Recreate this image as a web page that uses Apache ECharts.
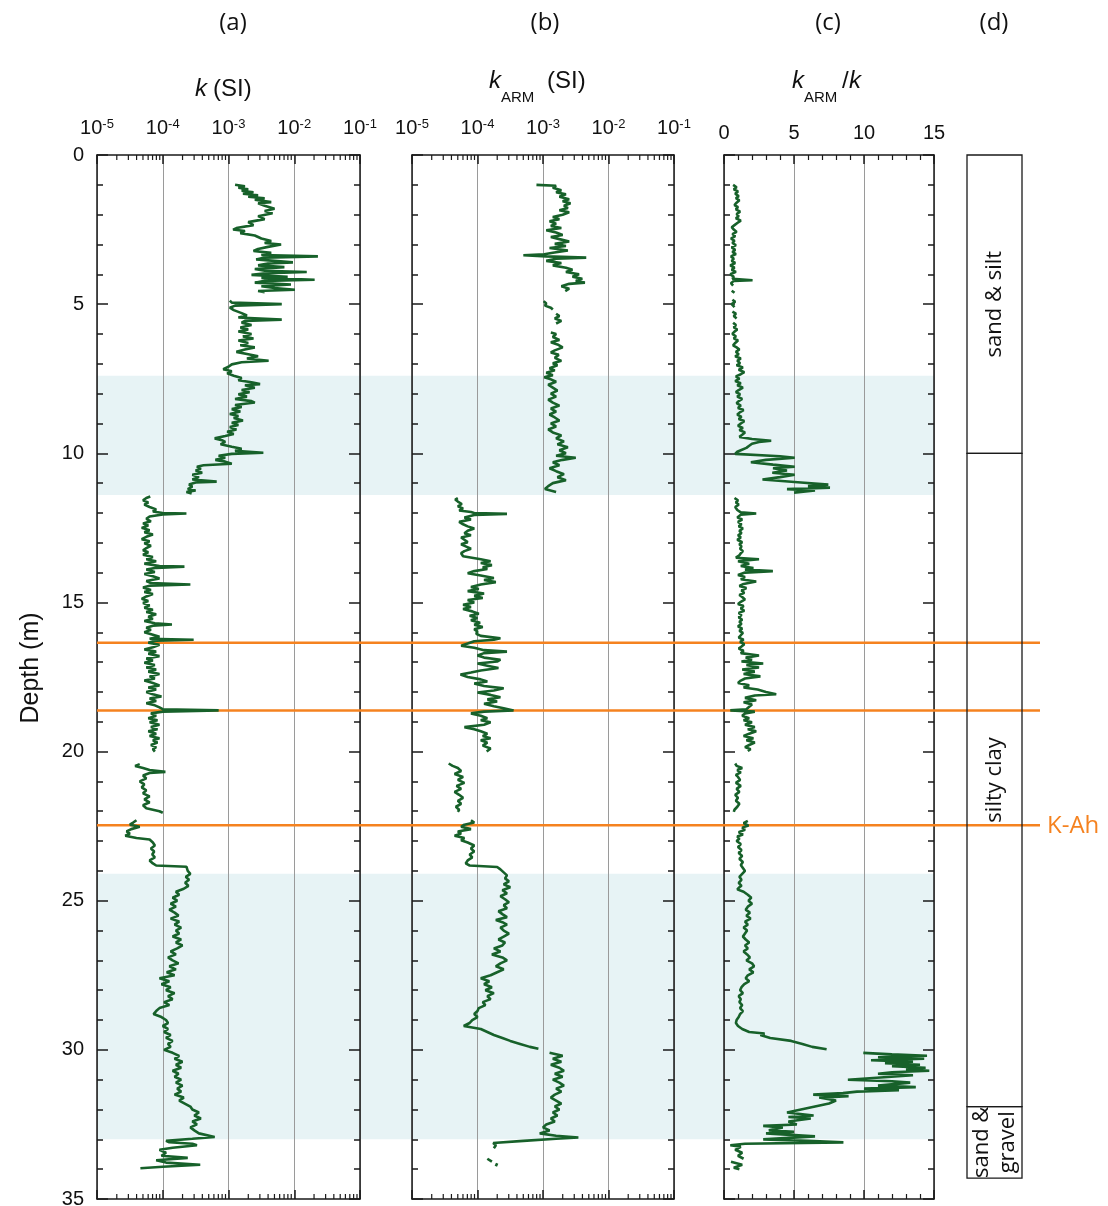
<!DOCTYPE html>
<html><head><meta charset="utf-8">
<script src="https://cdn.jsdelivr.net/npm/echarts@6/dist/echarts.min.js"></script>
<style>html,body{margin:0;padding:0;background:#fff}#c{width:1108px;height:1206px}</style>
</head><body><div id="c"></div>
<script>
// ---------------- DATA ----------------
const panelTitles = ['(a)', '(b)', '(c)', '(d)'];
const logTickExponents = [-5, -4, -3, -2, -1];
const ratioTicks = [0, 5, 10, 15];
const depthTicks = [0, 5, 10, 15, 20, 25, 30, 35];

// panel (a): [depth (m), log10 k (SI)]; null = gap
const kSeries = [
[1.00,-2.90],[1.05,-2.75],[1.10,-2.85],[1.15,-2.70],[1.20,-2.80],[1.25,-2.62],[1.30,-2.78],[1.35,-2.55],[1.40,-2.70],[1.45,-2.45],[1.50,-2.60],[1.58,-2.35],[1.62,-2.55],[1.70,-2.45],[1.80,-2.30],[1.88,-2.45],[1.95,-2.33],[2.05,-2.55],[2.15,-2.45],[2.25,-2.70],[2.35,-2.62],[2.45,-2.88],[2.50,-2.93],[2.55,-2.75],[2.62,-2.82],[2.70,-2.60],[2.80,-2.50],[2.88,-2.35],[2.95,-2.45],[3.00,-2.20],[3.08,-2.40],[3.15,-2.55],[3.22,-2.62],[3.28,-2.35],[3.35,-2.50],[3.40,-1.64],[3.44,-2.45],[3.50,-2.58],[3.55,-2.30],[3.60,-2.02],[3.64,-2.40],[3.70,-2.55],[3.76,-2.15],[3.82,-2.60],[3.88,-2.45],[3.92,-1.81],[3.96,-2.40],[4.02,-2.65],[4.08,-2.10],[4.12,-2.50],[4.18,-1.69],[4.22,-2.45],[4.28,-2.60],[4.34,-2.05],[4.40,-2.50],[4.46,-2.30],[4.52,-1.99],[4.56,-2.55],[4.60,-2.45],[4.70,null],
[4.88,-2.98],[4.95,-2.95],[5.00,-2.19],[5.05,-2.90],[5.12,-2.98],[5.20,-2.92],[5.30,-2.80],[5.38,-2.72],[5.45,-2.85],[5.52,-2.19],[5.56,-2.75],[5.62,-2.80],[5.70,-2.65],[5.78,-2.82],[5.85,-2.70],[5.92,-2.85],[6.00,-2.65],[6.08,-2.78],[6.15,-2.62],[6.22,-2.85],[6.30,-2.70],[6.38,-2.82],[6.45,-2.60],[6.52,-2.75],[6.60,-2.88],[6.68,-2.70],[6.75,-2.55],[6.82,-2.72],[6.90,-2.39],[6.95,-2.80],[7.02,-2.95],[7.10,-3.00],[7.18,-3.08],[7.25,-2.95],[7.32,-3.02],[7.40,-2.92],[7.48,-2.80],[7.55,-2.85],[7.62,-2.65],[7.68,-2.52],[7.72,-2.75],[7.80,-2.60],[7.88,-2.80],[7.95,-2.68],[8.02,-2.85],[8.10,-2.72],[8.18,-2.90],[8.25,-2.65],[8.30,-2.60],[8.38,-2.90],[8.45,-2.80],[8.52,-2.95],[8.60,-2.82],[8.68,-2.98],[8.75,-2.85],[8.82,-2.92],[8.90,-2.78],[8.98,-2.95],[9.05,-2.85],[9.12,-2.98],[9.20,-2.88],[9.28,-3.02],[9.35,-2.92],[9.42,-3.05],[9.50,-3.21],[9.56,-3.10],[9.62,-3.05],[9.70,-3.12],[9.78,-2.95],[9.85,-2.80],[9.92,-2.90],[9.98,-2.47],[10.02,-2.95],[10.08,-3.15],[10.15,-3.05],[10.22,-3.20],[10.28,-3.05],[10.35,-2.95],[10.40,-3.38],[10.45,-3.48],[10.52,-3.42],[10.58,-3.50],[10.65,-3.40],[10.72,-3.55],[10.80,-3.45],[10.88,-3.55],[10.95,-3.18],[10.98,-3.50],[11.05,-3.60],[11.12,-3.55],[11.20,-3.62],[11.25,-3.50],[11.30,-3.64],[11.35,-3.56],[11.40,null],
[11.45,-4.19],[11.50,-4.25],[11.58,-4.30],[11.65,-4.22],[11.72,-4.28],[11.80,-4.20],[11.88,-4.10],[11.95,-4.15],[12.00,-4.00],[12.02,-3.64],[12.05,-4.00],[12.12,-4.20],[12.20,-4.25],[12.28,-4.18],[12.35,-4.30],[12.42,-4.22],[12.50,-4.32],[12.58,-4.20],[12.65,-4.28],[12.72,-4.15],[12.80,-4.25],[12.88,-4.32],[12.95,-4.20],[13.02,-4.28],[13.10,-4.18],[13.18,-4.25],[13.25,-4.30],[13.32,-4.22],[13.40,-4.30],[13.48,-4.15],[13.55,-4.25],[13.62,-4.10],[13.70,-4.28],[13.78,-4.05],[13.80,-3.67],[13.84,-4.10],[13.90,-4.25],[13.98,-4.12],[14.05,-4.28],[14.12,-4.15],[14.20,-4.05],[14.28,-4.25],[14.35,-4.18],[14.40,-3.58],[14.44,-4.20],[14.50,-4.30],[14.58,-4.18],[14.65,-4.28],[14.72,-4.15],[14.80,-4.25],[14.88,-4.32],[14.95,-4.22],[15.02,-4.30],[15.10,-4.20],[15.18,-4.28],[15.25,-4.15],[15.32,-4.25],[15.40,-4.10],[15.48,-4.22],[15.55,-4.15],[15.62,-4.28],[15.70,-4.12],[15.74,-3.86],[15.78,-4.15],[15.85,-4.25],[15.92,-4.18],[16.00,-4.28],[16.08,-4.15],[16.15,-4.05],[16.22,-4.20],[16.25,-3.53],[16.28,-4.10],[16.35,-4.22],[16.42,-4.05],[16.50,-4.15],[16.58,-4.28],[16.65,-4.10],[16.72,-4.22],[16.80,-4.05],[16.88,-4.25],[16.95,-4.15],[17.02,-4.28],[17.10,-4.12],[17.18,-4.25],[17.25,-4.10],[17.32,-4.22],[17.40,-4.05],[17.48,-4.20],[17.55,-4.12],[17.62,-4.28],[17.70,-4.15],[17.78,-4.05],[17.85,-4.22],[17.92,-4.10],[18.00,-4.25],[18.08,-4.15],[18.15,-4.02],[18.22,-4.20],[18.30,-4.10],[18.38,-4.25],[18.45,-4.12],[18.52,-4.05],[18.58,-4.00],[18.62,-3.15],[18.66,-4.00],[18.72,-4.18],[18.80,-4.10],[18.88,-4.22],[18.95,-4.08],[19.02,-4.20],[19.10,-4.05],[19.18,-4.18],[19.25,-4.08],[19.32,-4.22],[19.40,-4.10],[19.48,-4.20],[19.55,-4.05],[19.62,-4.15],[19.70,-4.08],[19.78,-4.18],[19.85,-4.10],[19.92,-4.15],[20.00,-4.12],[20.20,null],
[20.42,-4.35],[20.48,-4.42],[20.55,-4.30],[20.62,-4.20],[20.68,-3.96],[20.72,-4.20],[20.80,-4.30],[20.90,-4.25],[21.00,-4.35],[21.10,-4.28],[21.20,-4.32],[21.30,-4.25],[21.40,-4.30],[21.50,-4.20],[21.60,-4.28],[21.70,-4.20],[21.80,-4.30],[21.90,-4.25],[22.00,-4.05],[22.05,-4.00],[22.15,null],
[22.30,-4.40],[22.38,-4.45],[22.45,-4.50],[22.52,-4.35],[22.60,-4.48],[22.68,-4.55],[22.75,-4.50],[22.82,-4.57],[22.90,-4.40],[22.95,-4.20],[23.05,-4.15],[23.15,-4.12],[23.25,-4.18],[23.35,-4.13],[23.45,-4.16],[23.55,-4.12],[23.65,-4.20],[23.75,-4.15],[23.82,-4.10],[23.86,-3.64],[23.92,-3.62],[24.00,-3.62],[24.10,-3.58],[24.20,-3.65],[24.30,-3.60],[24.40,-3.66],[24.50,-3.61],[24.60,-3.68],[24.70,-3.80],[24.80,-3.75],[24.90,-3.85],[25.00,-3.78],[25.10,-3.88],[25.20,-3.80],[25.30,-3.90],[25.40,-3.82],[25.50,-3.76],[25.60,-3.88],[25.70,-3.75],[25.80,-3.82],[25.90,-3.72],[26.00,-3.80],[26.10,-3.75],[26.20,-3.85],[26.30,-3.72],[26.40,-3.80],[26.50,-3.70],[26.60,-3.78],[26.70,-3.88],[26.80,-3.80],[26.90,-3.92],[27.00,-3.85],[27.10,-3.76],[27.20,-3.90],[27.30,-3.80],[27.40,-3.94],[27.50,-3.82],[27.60,-4.05],[27.70,-3.90],[27.80,-4.02],[27.90,-3.88],[28.00,-3.95],[28.10,-3.82],[28.20,-3.92],[28.30,-3.85],[28.40,-3.98],[28.50,-3.90],[28.60,-4.05],[28.70,-4.10],[28.80,-4.14],[28.90,-4.02],[29.00,-3.95],[29.10,-3.92],[29.20,-4.00],[29.30,-3.92],[29.40,-3.98],[29.50,-3.88],[29.60,-3.95],[29.70,-3.85],[29.80,-3.92],[29.90,-3.88],[30.00,-3.98],[30.10,-3.85],[30.20,-3.75],[30.30,-3.82],[30.40,-3.70],[30.50,-3.80],[30.60,-3.72],[30.70,-3.85],[30.80,-3.76],[30.90,-3.82],[31.00,-3.72],[31.10,-3.80],[31.20,-3.70],[31.30,-3.78],[31.40,-3.72],[31.50,-3.82],[31.60,-3.68],[31.70,-3.75],[31.90,-3.58],[32.00,-3.55],[32.10,-3.45],[32.20,-3.52],[32.30,-3.42],[32.40,-3.55],[32.50,-3.48],[32.60,-3.58],[32.70,-3.52],[32.80,-3.45],[32.92,-3.21],[32.98,-3.55],[33.05,-3.95],[33.10,-3.90],[33.15,-3.55],[33.20,-3.48],[33.28,-3.85],[33.35,-4.05],[33.45,-3.95],[33.55,-4.02],[33.62,-3.62],[33.70,-4.10],[33.78,-3.95],[33.85,-3.43],[33.92,-4.00],[33.97,-4.34]
];

// panel (b): [depth (m), log10 kARM (SI)]
const kArmSeries = [
[1.00,-3.10],[1.03,-2.80],[1.10,-2.85],[1.18,-2.72],[1.25,-2.80],[1.32,-2.65],[1.40,-2.75],[1.48,-2.60],[1.55,-2.70],[1.62,-2.58],[1.70,-2.68],[1.78,-2.62],[1.85,-2.75],[1.92,-2.60],[2.00,-2.70],[2.08,-2.85],[2.15,-2.75],[2.22,-2.90],[2.30,-2.80],[2.38,-2.88],[2.45,-2.72],[2.52,-2.95],[2.60,-2.80],[2.68,-2.70],[2.75,-2.88],[2.82,-2.75],[2.90,-2.60],[2.98,-2.82],[3.05,-2.65],[3.12,-2.90],[3.20,-2.62],[3.28,-2.85],[3.33,-2.98],[3.36,-3.30],[3.40,-2.95],[3.44,-2.34],[3.48,-2.80],[3.55,-2.95],[3.62,-2.72],[3.70,-2.85],[3.78,-2.65],[3.85,-2.55],[3.92,-2.65],[4.00,-2.45],[4.08,-2.55],[4.15,-2.40],[4.22,-2.50],[4.28,-2.36],[4.32,-2.60],[4.40,-2.72],[4.48,-2.60],[4.56,-2.66],[4.70,null],
[4.90,-2.99],[4.98,-2.95],[5.05,-2.97],[5.12,-2.88],[5.18,-2.85],[5.25,null],[5.32,-2.80],[5.40,-2.75],[5.48,-2.82],[5.56,-2.72],[5.65,-2.80],[5.80,null],
[5.95,-2.88],[6.00,-2.80],[6.10,-2.85],[6.20,-2.75],[6.28,-2.88],[6.35,-2.78],[6.45,-2.70],[6.55,-2.82],[6.62,-2.88],[6.70,-2.76],[6.80,-2.82],[6.90,-2.72],[6.98,-2.85],[7.05,-2.78],[7.15,-2.90],[7.22,-2.82],[7.30,-2.95],[7.38,-2.85],[7.45,-2.98],[7.52,-2.88],[7.60,-2.80],[7.70,-2.92],[7.80,-2.85],[7.90,-2.78],[8.00,-2.88],[8.10,-2.80],[8.20,-2.92],[8.30,-2.85],[8.40,-2.75],[8.50,-2.88],[8.60,-2.80],[8.70,-2.90],[8.80,-2.82],[8.90,-2.75],[9.00,-2.88],[9.10,-2.80],[9.20,-2.92],[9.30,-2.85],[9.40,-2.72],[9.50,-2.80],[9.60,-2.68],[9.70,-2.78],[9.80,-2.62],[9.90,-2.75],[10.00,-2.65],[10.08,-2.80],[10.15,-2.50],[10.22,-2.70],[10.30,-2.85],[10.40,-2.75],[10.50,-2.90],[10.60,-2.80],[10.70,-2.68],[10.80,-2.78],[10.90,-2.65],[11.00,-2.85],[11.10,-2.92],[11.20,-2.97],[11.30,-2.80],[11.40,null],
[11.50,-4.30],[11.55,-4.34],[11.62,-4.30],[11.70,-4.24],[11.78,-4.30],[11.85,-4.22],[11.92,-4.28],[11.97,-4.10],[12.00,-4.05],[12.03,-3.55],[12.07,-4.05],[12.15,-4.20],[12.22,-4.10],[12.30,-4.28],[12.38,-4.22],[12.45,-4.15],[12.52,-4.05],[12.60,-4.15],[12.68,-4.20],[12.75,-4.10],[12.82,-4.25],[12.90,-4.20],[12.98,-4.15],[13.05,-4.25],[13.12,-4.18],[13.20,-4.10],[13.28,-4.20],[13.35,-4.25],[13.45,-4.22],[13.55,-3.95],[13.62,-3.80],[13.68,-3.95],[13.75,-3.78],[13.82,-3.92],[13.88,-3.85],[13.95,-4.05],[14.02,-4.15],[14.10,-3.95],[14.18,-3.75],[14.25,-3.90],[14.32,-3.72],[14.40,-3.95],[14.48,-4.10],[14.55,-3.98],[14.62,-4.15],[14.70,-3.90],[14.78,-4.05],[14.85,-3.92],[14.92,-4.15],[15.00,-4.05],[15.08,-4.22],[15.15,-4.10],[15.22,-4.22],[15.30,-4.08],[15.38,-3.98],[15.45,-4.12],[15.52,-4.00],[15.60,-4.10],[15.68,-3.96],[15.75,-4.05],[15.82,-3.92],[15.90,-4.05],[15.98,-4.00],[16.05,-4.02],[16.12,-3.95],[16.20,-3.65],[16.25,-3.75],[16.30,-4.05],[16.38,-4.15],[16.45,-4.25],[16.52,-4.05],[16.60,-3.90],[16.65,-3.55],[16.70,-3.90],[16.78,-4.00],[16.85,-3.90],[16.92,-3.65],[16.98,-3.70],[17.05,-4.00],[17.12,-3.85],[17.20,-3.68],[17.28,-3.95],[17.35,-4.10],[17.42,-4.26],[17.50,-4.15],[17.58,-3.95],[17.65,-3.85],[17.72,-4.05],[17.80,-3.90],[17.88,-3.60],[17.95,-3.75],[18.02,-4.00],[18.10,-3.80],[18.18,-3.65],[18.25,-3.85],[18.32,-3.70],[18.40,-3.90],[18.48,-3.75],[18.55,-3.60],[18.62,-3.45],[18.66,-3.90],[18.72,-4.10],[18.80,-3.95],[18.88,-3.85],[18.95,-3.95],[19.02,-3.80],[19.10,-3.90],[19.18,-4.20],[19.25,-4.05],[19.32,-3.95],[19.40,-3.85],[19.48,-3.92],[19.55,-3.80],[19.62,-3.95],[19.70,-3.85],[19.80,-3.92],[19.90,-3.80],[20.00,-3.86],[20.20,null],
[20.40,-4.44],[20.48,-4.38],[20.55,-4.30],[20.65,-4.25],[20.75,-4.35],[20.85,-4.22],[20.95,-4.30],[21.05,-4.20],[21.15,-4.32],[21.25,-4.25],[21.35,-4.35],[21.45,-4.28],[21.55,-4.22],[21.65,-4.30],[21.75,-4.25],[21.85,-4.33],[21.95,-4.28],[22.02,-4.30],[22.15,null],
[22.30,-4.10],[22.38,-4.05],[22.45,-4.20],[22.52,-4.25],[22.60,-4.10],[22.68,-4.30],[22.75,-4.25],[22.82,-4.35],[22.90,-4.20],[22.97,-4.25],[23.05,-4.15],[23.15,-4.05],[23.25,-4.10],[23.35,-4.05],[23.45,-4.12],[23.55,-4.08],[23.65,-4.15],[23.75,-4.18],[23.82,-4.12],[23.87,-3.70],[23.95,-3.65],[24.05,-3.60],[24.15,-3.55],[24.25,-3.58],[24.35,-3.52],[24.45,-3.60],[24.55,-3.50],[24.65,-3.62],[24.75,-3.55],[24.85,-3.65],[24.95,-3.58],[25.05,-3.52],[25.15,-3.60],[25.25,-3.55],[25.35,-3.68],[25.45,-3.62],[25.55,-3.55],[25.65,-3.72],[25.72,-3.62],[25.80,-3.55],[25.90,-3.65],[26.00,-3.60],[26.10,-3.52],[26.20,-3.60],[26.30,-3.68],[26.40,-3.58],[26.50,-3.62],[26.60,-3.75],[26.70,-3.65],[26.80,-3.78],[26.90,-3.62],[27.00,-3.55],[27.10,-3.65],[27.20,-3.72],[27.30,-3.60],[27.40,-3.70],[27.50,-3.80],[27.60,-3.95],[27.70,-3.82],[27.80,-3.90],[27.90,-3.78],[28.00,-3.88],[28.10,-3.75],[28.20,-3.85],[28.30,-3.80],[28.40,-3.92],[28.50,-3.88],[28.60,-3.98],[28.70,-4.00],[28.80,-4.05],[28.90,-4.00],[29.00,-4.08],[29.10,-4.12],[29.20,-4.21],[29.30,-3.95],[29.40,-3.85],[29.50,-3.75],[29.60,-3.62],[29.70,-3.50],[29.80,-3.35],[29.90,-3.20],[29.96,-3.07],[30.03,null],
[30.10,-2.90],[30.20,-2.70],[30.30,-2.85],[30.40,-2.72],[30.50,-2.88],[30.60,-2.75],[30.70,-2.68],[30.80,-2.82],[30.90,-2.70],[31.00,-2.85],[31.10,-2.75],[31.20,-2.68],[31.30,-2.80],[31.40,-2.72],[31.50,-2.82],[31.60,-2.88],[31.70,-2.80],[31.80,-2.72],[31.90,-2.82],[32.00,-2.75],[32.10,-2.85],[32.20,-2.78],[32.30,-2.88],[32.40,-2.82],[32.50,-2.95],[32.60,-3.00],[32.70,-2.90],[32.80,-3.05],[32.88,-2.80],[32.94,-2.46],[32.98,-2.80],[33.05,-3.30],[33.12,-3.76],[33.20,-3.72],[33.30,-3.75],[33.45,null],
[33.65,-3.85],[33.75,-3.78],[33.77,null],[33.80,-3.70],[33.90,-3.72]
];

// panel (c): [depth (m), kARM/k]
const ratioSeries = [
[1.00,0.65],[1.08,0.90],[1.15,0.70],[1.22,1.00],[1.30,0.80],[1.38,1.05],[1.45,0.85],[1.52,1.10],[1.60,0.90],[1.68,0.75],[1.75,1.00],[1.82,0.85],[1.90,1.15],[1.98,0.90],[2.05,1.05],[2.12,0.85],[2.20,1.20],[2.28,0.95],[2.35,0.75],[2.42,0.55],[2.50,0.70],[2.58,0.90],[2.65,0.60],[2.72,0.80],[2.80,0.50],[2.88,0.75],[2.95,0.60],[3.02,0.85],[3.10,0.55],[3.18,0.80],[3.25,0.60],[3.32,0.85],[3.40,0.50],[3.48,0.70],[3.55,0.55],[3.62,0.80],[3.70,0.45],[3.78,0.75],[3.85,0.55],[3.92,0.85],[4.00,0.45],[4.08,0.70],[4.15,0.60],[4.20,2.04],[4.22,0.70],[4.30,0.50],[4.38,0.65],[4.46,null],
[4.55,0.55],[4.62,0.75],[4.72,null],[4.85,0.60],[4.92,0.80],[5.00,0.55],[5.10,0.75],[5.17,null],[5.25,0.60],[5.32,0.85],[5.40,0.70],[5.48,0.90],[5.55,null],
[5.62,0.65],[5.70,0.85],[5.78,0.70],[5.85,0.95],[5.92,0.75],[6.00,0.60],[6.08,0.85],[6.15,0.70],[6.22,1.00],[6.30,0.80],[6.38,0.65],[6.45,0.90],[6.52,1.10],[6.60,0.85],[6.68,1.05],[6.75,0.80],[6.82,1.20],[6.90,0.95],[6.98,1.15],[7.05,0.90],[7.12,1.35],[7.20,1.05],[7.28,1.45],[7.35,1.20],[7.42,0.85],[7.50,1.10],[7.58,0.80],[7.65,1.20],[7.72,0.95],[7.80,1.35],[7.88,1.05],[7.95,0.85],[8.02,1.15],[8.10,0.95],[8.18,1.30],[8.25,1.05],[8.32,0.90],[8.40,1.20],[8.48,1.00],[8.55,1.40],[8.62,1.15],[8.70,0.95],[8.78,1.25],[8.85,1.05],[8.92,1.45],[9.00,1.20],[9.08,1.00],[9.15,1.35],[9.22,1.10],[9.30,1.50],[9.38,1.30],[9.45,1.10],[9.52,2.00],[9.58,3.37],[9.62,2.50],[9.68,2.00],[9.75,1.80],[9.82,1.60],[9.90,1.20],[9.95,0.95],[10.02,0.80],[10.10,4.00],[10.15,5.05],[10.22,3.00],[10.30,1.92],[10.38,3.50],[10.45,5.05],[10.50,3.50],[10.58,4.50],[10.65,3.45],[10.72,5.05],[10.80,4.00],[10.88,2.75],[10.93,2.70],[10.98,5.50],[11.05,7.45],[11.10,6.00],[11.15,7.57],[11.20,4.50],[11.25,6.50],[11.32,5.00],[11.40,null],
[11.50,0.75],[11.58,1.00],[11.65,0.85],[11.72,1.05],[11.80,0.80],[11.90,0.95],[11.98,1.20],[12.02,2.30],[12.06,1.20],[12.15,0.95],[12.22,1.30],[12.30,1.00],[12.38,1.25],[12.45,1.05],[12.52,1.35],[12.60,1.10],[12.68,1.25],[12.75,1.00],[12.82,1.20],[12.90,0.95],[12.98,1.30],[13.05,1.10],[13.12,1.25],[13.20,1.15],[13.28,1.35],[13.35,1.20],[13.42,1.10],[13.50,0.85],[13.55,2.50],[13.62,1.00],[13.70,1.80],[13.78,1.20],[13.85,2.10],[13.90,1.50],[13.95,3.49],[14.00,1.50],[14.08,1.00],[14.15,1.50],[14.22,1.20],[14.30,2.30],[14.38,1.40],[14.45,1.10],[14.52,1.60],[14.60,1.25],[14.68,1.45],[14.75,1.10],[14.82,1.30],[14.90,1.50],[14.98,1.20],[15.05,1.00],[15.12,1.40],[15.20,1.20],[15.28,1.45],[15.35,1.05],[15.42,1.25],[15.50,1.05],[15.58,1.30],[15.65,1.10],[15.72,1.25],[15.80,1.00],[15.88,1.30],[15.95,1.10],[16.02,1.35],[16.10,1.20],[16.18,1.05],[16.25,1.40],[16.32,1.15],[16.40,1.45],[16.48,1.25],[16.55,1.05],[16.62,1.40],[16.70,1.20],[16.78,2.50],[16.85,1.55],[16.92,2.00],[16.98,1.25],[17.05,2.80],[17.10,1.60],[17.18,2.50],[17.25,1.30],[17.32,2.20],[17.40,1.40],[17.48,2.60],[17.55,1.50],[17.62,1.20],[17.70,1.00],[17.78,1.80],[17.85,1.40],[17.92,2.40],[18.00,3.00],[18.08,3.73],[18.12,2.20],[18.20,1.50],[18.28,2.30],[18.35,1.40],[18.42,2.00],[18.50,1.80],[18.58,1.60],[18.62,0.45],[18.66,2.20],[18.72,1.50],[18.80,1.30],[18.88,1.80],[18.95,1.40],[19.02,2.00],[19.10,1.50],[19.18,2.20],[19.25,1.70],[19.32,2.30],[19.40,1.80],[19.48,1.40],[19.55,2.10],[19.62,1.60],[19.70,2.20],[19.78,1.80],[19.85,1.50],[19.92,1.90],[19.98,1.70],[20.20,null],
[20.40,0.80],[20.48,0.90],[20.55,1.30],[20.62,0.95],[20.70,1.20],[20.78,0.85],[20.85,1.00],[20.95,1.15],[21.05,0.85],[21.15,1.20],[21.25,0.90],[21.35,1.10],[21.45,0.80],[21.55,1.00],[21.65,0.85],[21.75,1.10],[21.85,0.95],[21.95,0.75],[22.02,0.70],[22.15,null],
[22.32,1.70],[22.40,1.40],[22.48,1.75],[22.55,1.30],[22.62,1.50],[22.70,1.05],[22.78,1.35],[22.85,0.95],[22.92,1.10],[23.00,0.90],[23.10,1.20],[23.20,1.00],[23.30,1.25],[23.40,1.05],[23.50,1.30],[23.60,1.10],[23.70,1.35],[23.80,1.20],[23.90,1.35],[24.00,1.50],[24.10,1.30],[24.20,1.10],[24.30,1.25],[24.40,1.05],[24.50,1.25],[24.55,1.10],[24.62,0.95],[24.70,1.40],[24.80,1.70],[24.90,1.95],[25.00,1.75],[25.10,2.00],[25.20,1.70],[25.30,1.55],[25.40,1.85],[25.50,1.60],[25.60,1.90],[25.70,1.50],[25.80,1.70],[25.90,1.40],[26.00,1.65],[26.10,1.50],[26.20,1.35],[26.30,1.55],[26.40,1.80],[26.50,1.50],[26.60,1.70],[26.70,1.40],[26.80,1.65],[26.90,1.85],[27.00,1.60],[27.10,2.00],[27.20,2.15],[27.30,1.80],[27.40,2.10],[27.50,1.70],[27.60,1.55],[27.70,1.80],[27.80,1.45],[27.90,1.25],[28.00,1.15],[28.10,1.35],[28.20,1.05],[28.30,1.20],[28.40,1.10],[28.50,1.30],[28.60,1.15],[28.70,1.35],[28.80,1.15],[28.90,1.05],[29.00,0.90],[29.10,0.85],[29.20,1.00],[29.30,1.30],[29.40,1.80],[29.45,2.90],[29.50,2.60],[29.60,3.30],[29.70,4.80],[29.80,5.60],[29.90,6.30],[29.98,7.33],[30.04,null],
[30.10,9.95],[30.15,12.00],[30.20,14.50],[30.25,11.00],[30.30,14.30],[30.35,10.50],[30.40,13.50],[30.45,11.50],[30.50,14.00],[30.55,12.00],[30.60,14.40],[30.65,13.00],[30.70,14.66],[30.75,12.00],[30.80,11.00],[30.85,13.50],[31.00,8.85],[31.05,12.00],[31.10,13.30],[31.20,11.00],[31.25,13.70],[31.30,10.00],[31.35,12.50],[31.40,9.50],[31.45,8.50],[31.50,6.37],[31.55,8.90],[31.60,6.80],[31.70,8.00],[31.80,7.50],[31.90,6.50],[32.00,5.50],[32.10,4.50],[32.20,6.40],[32.25,4.60],[32.30,6.20],[32.40,4.60],[32.50,5.20],[32.55,2.80],[32.60,4.20],[32.70,3.20],[32.75,5.00],[32.80,3.00],[32.90,6.50],[33.00,2.80],[33.05,6.00],[33.10,8.53],[33.15,1.50],[33.20,0.45],[33.25,1.20],[33.35,0.80],[33.45,1.30],[33.55,1.00],[33.65,1.40],[33.70,null],[33.75,0.50],[33.85,1.30],[33.95,0.70],[34.00,1.10]
];

// shaded depth intervals (m)
const bandTop = [7.4, 24.1];
const bandBottom = [11.4, 33.0];
// tephra marker depths (m) and labels
const tephraDepth = [16.35, 18.62, 22.47];
const tephraName = ['', '', 'K-Ah'];
// lithology column (d)
const lithoTop = [0, 10, 31.9];
const lithoBottom = [10, 31.9, 34.3];
const lithoName = ['sand & silt', 'silty clay', 'sand &\ngravel'];

// ---------------- STYLE ----------------
const GREEN = '#17612a', ORANGE = '#f5821f', BAND = '#e7f3f5';
const AXIS = '#1a1a1a', GRID = '#9a9a9a';
const SANS = 'Liberation Sans, Arial, sans-serif';
const SANS2 = 'Open Sans, Noto Sans, sans-serif';

const T = 155, H = 1044;
const gridA = {left: 97, top: T, width: 263, height: H};
const gridB = {left: 412, top: T, width: 262, height: H};
const gridC = {left: 724, top: T, width: 210, height: H};
const gridBand = {left: 97, top: T, width: 837, height: H};
const gridLine = {left: 97, top: T, width: 943, height: H};
const gridLith = {left: 967, top: T, width: 55, height: H};
const grids = [gridA, gridB, gridC, gridBand, gridLine, gridLith].map(g => Object.assign({containLabel: false, outerBoundsMode: 'none', show: false}, g));

const logLabel = v => {
  const e = Math.round(Math.log10(v));
  return '{b|10}{s|' + e + '}';
};
const logRich = {
  b: {fontSize: 20, fontFamily: SANS, color: '#111', lineHeight: 26, verticalAlign: 'top'},
  s: {fontSize: 13, fontFamily: SANS, color: '#111', lineHeight: 10, verticalAlign: 'top'}
};
const axisLine = {show: true, onZero: false, lineStyle: {color: AXIS, width: 1.5}};

function logAxis(gi, pos, labels) {
  return {
    type: 'log', logBase: 10, gridIndex: gi, position: pos, min: 1e-5, max: 1e-1,
    axisLine: axisLine,
    axisTick: {show: true, inside: true, length: 9, lineStyle: {color: AXIS, width: 1.5}},
    axisLabel: {show: labels, margin: 11, fontSize: 20, fontFamily: SANS, formatter: logLabel, rich: logRich, showMinLabel: true, showMaxLabel: true, hideOverlap: false},
    splitLine: {show: labels, lineStyle: {color: GRID, width: 1}},
    minorTick: {show: false}, minorSplitLine: {show: false}
  };
}
function ratioAxis(pos, labels) {
  return {
    type: 'value', gridIndex: 2, position: pos, min: 0, max: 15, interval: 5,
    axisLine: axisLine,
    axisTick: {show: true, inside: true, length: 9, lineStyle: {color: AXIS, width: 1.5}},
    minorTick: {show: true, splitNumber: 5, length: 5, lineStyle: {color: AXIS, width: 1.2}},
    axisLabel: {show: labels, margin: 12, fontSize: 20, fontFamily: SANS, color: '#111', showMinLabel: true, showMaxLabel: true},
    splitLine: {show: labels, lineStyle: {color: GRID, width: 1}}
  };
}
function hiddenX(gi) {
  return {type: 'value', gridIndex: gi, min: 0, max: 1, show: false};
}
function depthAxis(gi, pos, labels) {
  return {
    type: 'value', gridIndex: gi, position: pos, min: 0, max: 35, interval: 5, inverse: true,
    axisLine: axisLine,
    axisTick: {show: true, inside: true, length: 11, lineStyle: {color: AXIS, width: 1.5}},
    minorTick: {show: true, splitNumber: 5, length: 6, lineStyle: {color: AXIS, width: 1.5}},
    axisLabel: {show: labels, margin: 13, fontSize: 20, fontFamily: SANS, color: '#111',
      formatter: v => depthTicks.includes(v) ? String(v) : ''},
    splitLine: {show: false}
  };
}
function hiddenY(gi) {
  return {type: 'value', gridIndex: gi, min: 0, max: 35, inverse: true, show: false};
}

const xAxis = [
  logAxis(0, 'top', true), logAxis(0, 'bottom', false),
  logAxis(1, 'top', true), logAxis(1, 'bottom', false),
  ratioAxis('top', true), ratioAxis('bottom', false),
  hiddenX(3), hiddenX(4), hiddenX(5)
];
const yAxis = [
  depthAxis(0, 'left', true), depthAxis(0, 'right', false),
  depthAxis(1, 'left', false), depthAxis(1, 'right', false),
  depthAxis(2, 'left', false), depthAxis(2, 'right', false),
  hiddenY(3), hiddenY(4), hiddenY(5)
];

const toLogPts = arr => arr.map(([d, e]) => e === null ? ['-', '-'] : [Math.pow(10, e), d]);
const toPts = arr => arr.map(([d, v]) => v === null ? ['-', '-'] : [v, d]);

// minor ticks of the log axes at 2..9 x each decade
const minorLogTicks = [];
logTickExponents.slice(0, -1).forEach(e => { for (let m = 2; m <= 9; m++) minorLogTicks.push([m * Math.pow(10, e), 0]); });

function minorTickSeries(xi, yi) {
  return {
    type: 'custom', xAxisIndex: xi, yAxisIndex: yi, silent: true, z: 6, clip: false,
    data: minorLogTicks,
    renderItem: (params, api) => {
      const v = api.value(0);
      const a = api.coord([v, 0]), b = api.coord([v, 35]);
      const st = {stroke: AXIS, lineWidth: 1.2};
      return {type: 'group', children: [
        {type: 'line', shape: {x1: a[0], y1: a[1], x2: a[0], y2: a[1] + 5}, style: st},
        {type: 'line', shape: {x1: b[0], y1: b[1], x2: b[0], y2: b[1] - 5}, style: st}
      ]};
    }
  };
}

function curve(xi, yi, data) {
  return {type: 'line', xAxisIndex: xi, yAxisIndex: yi, data: data, showSymbol: false, symbol: 'none',
    connectNulls: false, silent: true, z: 5, lineStyle: {color: GREEN, width: 2.6}, clip: true};
}

const series = [
  {
    type: 'custom', xAxisIndex: 6, yAxisIndex: 6, silent: true, z: -5,
    data: bandTop.map((t, i) => [t, bandBottom[i]]),
    renderItem: (params, api) => {
      const a = api.coord([0, api.value(0)]), b = api.coord([1, api.value(1)]);
      return {type: 'rect', shape: {x: a[0], y: a[1], width: b[0] - a[0], height: b[1] - a[1]}, style: {fill: BAND}};
    }
  },
  {
    type: 'custom', xAxisIndex: 7, yAxisIndex: 7, silent: true, z: 3, clip: false,
    data: tephraDepth.map(d => [0, d]),
    renderItem: (params, api) => {
      const d = api.value(1);
      const a = api.coord([0, d]), b = api.coord([1, d]);
      const kids = [{type: 'line', shape: {x1: a[0], y1: a[1], x2: b[0], y2: b[1]}, style: {stroke: ORANGE, lineWidth: 2.5}}];
      const name = tephraName[params.dataIndex];
      if (name) kids.push({type: 'text', x: b[0] + 7, y: b[1] + 1, style: {text: name, fill: ORANGE, fontSize: 24, fontFamily: SANS2, align: 'left', verticalAlign: 'middle'}});
      return {type: 'group', children: kids};
    }
  },
  {
    type: 'custom', xAxisIndex: 8, yAxisIndex: 8, silent: true, z: 3, clip: false,
    data: lithoTop.map((t, i) => [t, lithoBottom[i]]),
    renderItem: (params, api) => {
      const a = api.coord([0, api.value(0)]), b = api.coord([1, api.value(1)]);
      return {type: 'group', children: [
        {type: 'rect', shape: {x: a[0], y: a[1], width: b[0] - a[0], height: b[1] - a[1]}, style: {fill: 'none', stroke: AXIS, lineWidth: 1.3}},
        {type: 'text', x: (a[0] + b[0]) / 2, y: (a[1] + b[1]) / 2, rotation: Math.PI / 2,
          style: {text: lithoName[params.dataIndex], fill: '#111', fontSize: 22, lineHeight: 26, fontFamily: SANS2, align: 'center', verticalAlign: 'middle'}}
      ]};
    }
  },
  curve(0, 0, toLogPts(kSeries)),
  curve(2, 2, toLogPts(kArmSeries)),
  curve(4, 4, toPts(ratioSeries)),
  minorTickSeries(0, 0),
  minorTickSeries(2, 2)
];

// axis titles (text pieces) and panel titles
const txt = (x, y, s, size, italic, fam, align) => ({type: 'text', x: x, y: y,
  style: {text: s, fontSize: size, fontStyle: italic ? 'italic' : 'normal', fontFamily: fam || SANS, fill: '#111', align: align || 'left', verticalAlign: 'middle'}});
const panelTitleX = [233, 545, 828, 994];
const graphic = panelTitles.map((t, i) => txt(panelTitleX[i], 23, t, 24, false, SANS2, 'center')).concat([
  txt(195, 89, 'k', 24, true), txt(213, 89, '(SI)', 24, false),
  txt(489, 81, 'k', 24, true), txt(501, 98, 'ARM', 15, false), txt(547, 81, '(SI)', 24, false),
  txt(792, 81, 'k', 24, true), txt(804, 98, 'ARM', 15, false), txt(842, 81, '/', 24, false), txt(849, 81, 'k', 24, true),
  {type: 'text', x: 31, y: 668, rotation: Math.PI / 2,
    style: {text: 'Depth (m)', fontSize: 25, fontFamily: SANS, fill: '#111', align: 'center', verticalAlign: 'middle'}}
]);

const chart = echarts.init(document.getElementById('c'), null, {renderer: 'canvas', width: 1108, height: 1206});
chart.setOption({
  animation: false,
  backgroundColor: '#ffffff',
  grid: grids,
  xAxis: xAxis,
  yAxis: yAxis,
  series: series,
  graphic: graphic
});
</script>
</body></html>
